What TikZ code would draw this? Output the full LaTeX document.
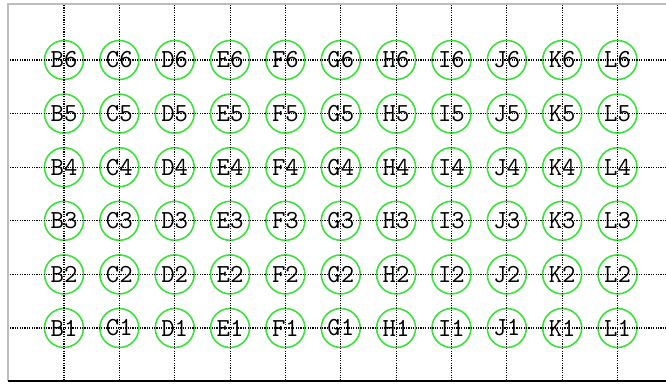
\documentclass[tikz,border=0pt]{standalone}
\definecolor{ringgreen}{RGB}{60,225,60}
\definecolor{framegray}{RGB}{190,190,190}
\begin{document}
\begin{tikzpicture}[
    x=1pt, y=-1pt, % pixel units, y goes down
    cell/.style={circle, draw=ringgreen, line width=1.6pt, minimum size=39pt,
        inner sep=0pt, font=\ttfamily\fontsize{26}{26}\selectfont},
    gridline/.style={line width=1.1pt, dash pattern=on 1.2pt off 1.2pt}
]
    \useasboundingbox (0,0) rectangle (666,383);

    % frame
    \draw[framegray, line width=1.5pt] (8,381) -- (8,4) -- (666,4);
    \draw[line width=2pt] (8,381) -- (666,381);

    % ends of the grid lines
    \coordinate (top) at (0,5);
    \coordinate (bottom) at (0,380);
    \coordinate (left) at (10,0);
    \coordinate (right) at (666,0);

    % wells: column letter / row number
    \foreach \col [count=\i from 0] in {B,C,D,E,F,G,H,I,J,K,L} {
        \foreach \row in {1,...,6} {
            \node[cell] (\col\row) at ({64+55.35*\i}, {328-53.6*(\row-1)}) {\col\row};
        }
    }

    % dotted grid through the wells
    \foreach \col in {B,C,D,E,F,G,H,I,J,K,L}
        \draw[gridline] (\col1 |- top) -- (\col1 |- bottom);
    \foreach \row in {1,...,6}
        \draw[gridline] (left |- B\row) -- (right |- B\row);
\end{tikzpicture}
\end{document}
